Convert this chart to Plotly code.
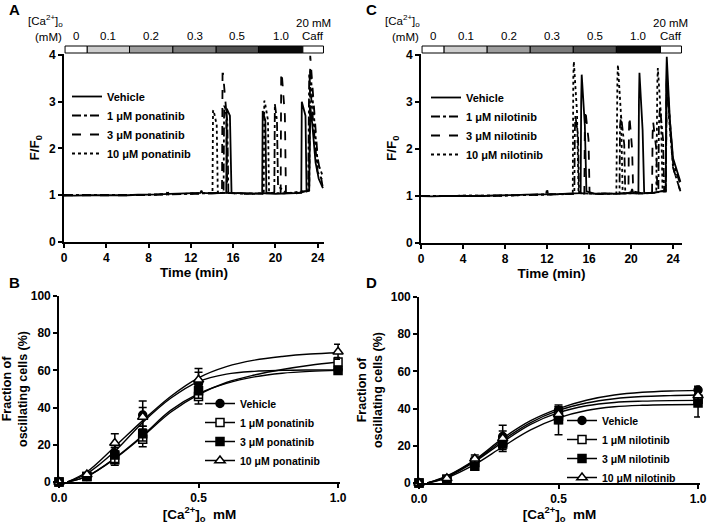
import plotly.graph_objects as go

W, H = 709, 524
FONT = "Liberation Sans, Arial, sans-serif"

def px(x):
    return x / W

def py(y):
    return 1 - y / H

# ---------------- Panel A / C protocol bar ----------------
bar_labels = ["0", "0.1", "0.2", "0.3", "0.5", "1.0", "Caff"]
bar_colors = ["#ffffff", "#cdcdcd", "#9d9d9d", "#7b7b7b", "#505050", "#0a0a0a", "#ffffff"]
bar_edges_A = [0.1, 2.2, 6.2, 10.3, 14.4, 18.4, 22.6, 24.55]
bar_edges_C = [0.1, 2.2, 6.3, 10.4, 14.5, 18.6, 22.8, 24.8]

# ---------------- Panel A traces (ponatinib) ----------------
A_veh_t = [0, 1, 2, 3, 4, 5, 6, 7, 8, 9, 10, 11, 12, 12.9, 13.0, 13.1, 14, 15.0, 15.35, 15.4, 15.7, 15.85,
           16.5, 17.5, 18.75, 18.8, 19.05, 19.15, 20, 21, 22, 22.45, 22.5, 22.85, 22.95, 23.2, 23.3, 23.5,
           23.8, 24.1, 24.5]
A_veh_v = [1.0, 0.99, 1.0, 1.0, 0.99, 1.0, 1.0, 1.01, 1.01, 1.02, 1.03, 1.04, 1.04, 1.05, 1.1, 1.05, 1.04,
           1.05, 1.05, 2.85, 2.7, 1.05, 1.04, 1.04, 1.03, 2.8, 2.6, 1.04, 1.03, 1.04, 1.04, 1.05, 3.0, 2.7,
           1.08, 1.1, 2.9, 2.5, 1.7, 1.35, 1.15]
A_1_t = [0, 2, 4, 6, 8, 10, 12, 14, 15.1, 15.15, 15.2, 15.45, 15.55, 17, 19, 19.9, 19.95, 20.15, 20.25, 21,
         22, 23.1, 23.2, 23.6, 24.0, 24.5]
A_1_v = [1.0, 1.0, 1.0, 1.01, 1.01, 1.02, 1.03, 1.04, 1.05, 2.9, 2.9, 2.6, 1.05, 1.04, 1.04, 1.06, 2.95, 2.6,
         1.2, 1.05, 1.05, 1.1, 3.6, 2.5, 1.5, 1.3]
A_3_t = [0, 2, 4, 6, 8, 10, 12, 14, 14.95, 15.0, 15.05, 15.35, 15.45, 17, 19, 20.5, 20.55, 20.6, 20.9, 21.0,
         22, 23.2, 23.3, 23.6, 24.0, 24.5]
A_3_v = [1.0, 1.0, 0.99, 1.0, 1.01, 1.02, 1.03, 1.04, 1.05, 3.6, 3.6, 2.8, 1.05, 1.03, 1.04, 1.05, 3.62, 3.62,
         2.7, 1.05, 1.04, 1.1, 3.98, 3.0, 1.8, 1.15]
A_10_t = [0, 2, 4, 6, 8, 9.7, 9.8, 9.9, 12, 14.05, 14.1, 14.15, 14.45, 14.55, 16, 18, 18.9, 18.95, 19.0, 19.3,
          19.4, 21, 23.2, 23.3, 23.6, 24.0, 24.5]
A_10_v = [1.0, 1.0, 1.0, 1.0, 1.01, 1.02, 1.1, 1.02, 1.03, 1.05, 2.8, 2.82, 2.5, 1.06, 1.04, 1.03, 1.05, 3.02,
          3.0, 2.6, 1.05, 1.04, 1.1, 3.7, 2.8, 1.7, 1.4]

# ---------------- Panel C traces (nilotinib) ----------------
C_veh_t = [0, 1, 2, 3, 4, 5, 6, 7, 8, 9, 10, 11, 12, 13, 14, 15.2, 15.25, 15.3, 15.6, 15.75, 16.5, 18, 19.5,
           20.0, 20.1, 20.2, 20.7, 20.75, 20.8, 21.1, 21.25, 22, 23.3, 23.35, 23.4, 23.7, 24.0, 24.7]
C_veh_v = [1.0, 0.99, 1.0, 1.0, 0.99, 1.0, 1.0, 1.01, 1.01, 1.02, 1.03, 1.03, 1.04, 1.04, 1.05, 1.06, 3.0,
           3.58, 2.5, 1.1, 1.05, 1.05, 1.05, 1.08, 1.15, 1.07, 1.06, 3.0, 3.62, 2.4, 1.06, 1.06, 1.12, 3.5,
           3.96, 2.6, 1.8, 1.3]
C_1_t = [0, 2, 4, 6, 8, 10, 12, 14, 14.6, 14.65, 14.7, 14.95, 15.05, 17, 18.9, 18.95, 19.05, 19.35, 19.45, 21,
         22.6, 22.65, 22.75, 23.05, 23.15, 23.3, 23.4, 23.7, 24.0, 24.7]
C_1_v = [1.0, 1.0, 1.0, 1.01, 1.01, 1.02, 1.03, 1.04, 1.05, 2.4, 2.7, 2.3, 1.06, 1.04, 1.05, 2.5, 2.7, 2.1,
         1.06, 1.05, 1.08, 2.5, 2.9, 2.2, 1.1, 1.1, 3.5, 2.6, 1.7, 1.25]
C_3_t = [0, 2, 4, 6, 8, 10, 12, 14, 15.55, 15.6, 15.65, 15.95, 16.05, 18, 19.75, 19.8, 19.85, 20.1, 20.2, 21,
         22.0, 22.05, 22.1, 22.4, 22.5, 23.3, 23.4, 23.7, 24.0, 24.7]
C_3_v = [1.0, 1.0, 0.99, 1.0, 1.01, 1.02, 1.03, 1.04, 1.05, 2.5, 2.83, 2.2, 1.06, 1.05, 1.06, 2.4, 2.69, 2.0,
         1.1, 1.06, 1.07, 2.3, 2.58, 2.0, 1.1, 1.1, 3.6, 2.5, 1.6, 1.1]
C_10_t = [0, 2, 4, 6, 8, 10, 11.9, 12.0, 12.1, 14, 14.45, 14.5, 14.55, 14.85, 15.0, 16, 18.6, 18.7, 18.75,
          19.05, 19.2, 21, 22.4, 22.5, 22.55, 22.85, 23.0, 23.3, 23.4, 23.7, 24.0, 24.7]
C_10_v = [1.0, 1.0, 1.0, 1.0, 1.01, 1.02, 1.03, 1.15, 1.03, 1.04, 1.05, 3.5, 3.86, 2.8, 1.06, 1.05, 1.05, 3.5,
          3.79, 2.7, 1.06, 1.05, 1.07, 3.4, 3.72, 2.7, 1.1, 1.1, 3.4, 2.4, 1.6, 1.1]

# ---------------- Panel B / D concentration-response ----------------
conc = [0.0, 0.1, 0.2, 0.3, 0.5, 1.0]
fit_x = [0.03, 0.1, 0.2, 0.3, 0.4, 0.5, 0.6, 0.7, 0.8, 0.9, 1.0]

B_veh = [0, 3, 15.5, 36, 53, 60.5]
B_veh_err = [0, 1, 3, 7.5, 8, 2]
B_1 = [0, 3, 12, 23, 46, 64.5]
B_1_err = [0, 1, 3, 4, 4, 2.5]
B_3 = [0, 3, 14.5, 26, 49, 60]
B_3_err = [0, 1, 4, 4, 4, 2]
B_10 = [0, 4, 21, 35, 55, 70]
B_10_err = [0, 1, 5, 5, 4, 4]
B_veh_fit = [0, 4.5, 16.5, 32, 45, 54, 58, 59.5, 60, 60.2, 60.3]
B_1_fit = [0, 3, 12.5, 24.5, 37.5, 47, 53.5, 57.5, 60.5, 62.8, 64.5]
B_3_fit = [0, 3, 12.8, 25, 38.5, 47.5, 53, 56.5, 58.5, 59.5, 60]
B_10_fit = [0, 5.5, 19, 33, 46, 56, 62, 65.5, 67.5, 68.8, 69.5]

D_veh = [0, 2, 12, 25, 39, 50]
D_veh_err = [0, 1, 2, 3, 2, 2]
D_1 = [0, 2, 11, 22, 36, 45]
D_1_err = [0, 1, 2, 3, 4, 3]
D_3 = [0, 2, 9, 21, 34, 43]
D_3_err = [0, 1, 2, 3, 8, 7.5]
D_10 = [0, 2.5, 13, 24, 37, 47]
D_10_err = [0, 1, 2, 7, 4, 4]
D_veh_fit = [0, 3.8, 12.5, 24, 33.5, 40, 44.5, 47.3, 48.8, 49.5, 49.8]
D_1_fit = [0, 3.5, 12, 23, 32.5, 39, 43, 45.3, 46.5, 47, 47.3]
D_3_fit = [0, 3.2, 11.5, 22, 31.5, 37.8, 41.5, 43.3, 44, 44.3, 44.4]
D_10_fit = [0, 2.8, 10, 19.5, 28.5, 35, 39, 41, 41.8, 42.1, 42.2]

names_pon = ["Vehicle", "1 \u03bcM ponatinib", "3 \u03bcM ponatinib", "10 \u03bcM ponatinib"]
names_nil = ["Vehicle", "1 \u03bcM nilotinib", "3 \u03bcM nilotinib", "10 \u03bcM nilotinib"]
dashes = ["solid", "dashdot", "dash", "dot"]
symbols = ["circle", "square", "square", "triangle-up"]
fills = ["black", "white", "black", "white"]

fig = go.Figure()

# Time traces
for (ax, leg, series, names) in [
    ("", "legend", [(A_veh_t, A_veh_v), (A_1_t, A_1_v), (A_3_t, A_3_v), (A_10_t, A_10_v)], names_pon),
    ("3", "legend3", [(C_veh_t, C_veh_v), (C_1_t, C_1_v), (C_3_t, C_3_v), (C_10_t, C_10_v)], names_nil),
]:
    for i in [3, 2, 1, 0]:
        t, v = series[i]
        fig.add_trace(go.Scatter(
            x=t, y=v, mode="lines", name=names[i],
            line=dict(color="black", width=1.8, dash=dashes[i]),
            xaxis="x" + ax, yaxis="y" + ax, legend=leg, legendrank=i + 1,
            cliponaxis=False,
        ))

# Concentration-response
for (ax, leg, pts, errs, fits, names) in [
    ("2", "legend2", [B_veh, B_1, B_3, B_10], [B_veh_err, B_1_err, B_3_err, B_10_err],
     [B_veh_fit, B_1_fit, B_3_fit, B_10_fit], names_pon),
    ("4", "legend4", [D_veh, D_1, D_3, D_10], [D_veh_err, D_1_err, D_3_err, D_10_err],
     [D_veh_fit, D_1_fit, D_3_fit, D_10_fit], names_nil),
]:
    for i in range(4):
        fig.add_trace(go.Scatter(
            x=fit_x, y=fits[i], mode="lines", line=dict(color="black", width=1.4, shape="spline"),
            xaxis="x" + ax, yaxis="y" + ax, showlegend=False, hoverinfo="skip",
        ))
    for i in range(4):
        fig.add_trace(go.Scatter(
            x=conc, y=pts[i], mode="markers",
            marker=dict(symbol=symbols[i], size=8 if i != 3 else 9, color=fills[i],
                        line=dict(color="black", width=1.5)),
            error_y=dict(type="data", array=errs[i], color="black", thickness=1.5, width=4),
            xaxis="x" + ax, yaxis="y" + ax, showlegend=False, cliponaxis=False,
        ))
    for i in range(4):
        fig.add_trace(go.Scatter(
            x=[None], y=[None], mode="lines+markers", name=names[i],
            line=dict(color="black", width=1.5),
            marker=dict(symbol=symbols[i], size=8 if i != 3 else 9, color=fills[i],
                        line=dict(color="black", width=1.5)),
            xaxis="x" + ax, yaxis="y" + ax, legend=leg, legendrank=i + 1,
        ))

tickfont = dict(family=FONT, size=12, color="black", weight="bold")

def axis(domain, rng, dtick, title=None, anchor=None, tickformat=None, standoff=None, tsize=13.5):
    d = dict(domain=domain, range=rng, dtick=dtick, tick0=0, showline=True, linecolor="black",
             linewidth=1.6, ticks="outside", ticklen=4, tickwidth=1.5, tickcolor="black",
             showgrid=False, zeroline=False, tickfont=tickfont, anchor=anchor, fixedrange=True,
             automargin=False)
    if tickformat:
        d["tickformat"] = tickformat
    if title:
        d["title"] = dict(text=title, font=dict(family=FONT, size=tsize, color="black", weight="bold"))
        if standoff is not None:
            d["title"]["standoff"] = standoff
    return d

ca_title = "[Ca<sup>2+</sup>]<sub>o</sub>  mM"
frac_title = "Fraction of<br>oscillating cells (%)"

fig.update_layout(
    width=W, height=H, margin=dict(l=0, r=0, t=0, b=0, autoexpand=False),
    paper_bgcolor="white", plot_bgcolor="white",
    font=dict(family=FONT, color="black"),
    xaxis=axis([px(64), px(324)], [0, 24.6], 4, "Time (min)", "y", standoff=3),
    yaxis=axis([py(242), py(53.5)], [0, 4.03], 1, "F/F<sub>0</sub>", "x", standoff=6),
    xaxis2=axis([px(59), px(340)], [0, 1.007], 0.5, ca_title, "y2", ".1f", standoff=5),
    yaxis2=axis([py(482), py(296)], [0, 100], 20, frac_title, "x2", standoff=5, tsize=12.5),
    xaxis3=axis([px(421), px(682)], [0, 24.85], 4, "Time (min)", "y3", standoff=3),
    yaxis3=axis([py(243), py(53.5)], [0, 4.03], 1, "F/F<sub>0</sub>", "x3", standoff=6),
    xaxis4=axis([px(419), px(700)], [0, 1.007], 0.5, ca_title, "y4", ".1f", standoff=5),
    yaxis4=axis([py(483), py(297)], [0, 100], 20, frac_title, "x4", standoff=5, tsize=12.5),
)

def leg(x, y, size):
    return dict(x=px(x), y=py(y), xanchor="left", yanchor="top", bgcolor="rgba(0,0,0,0)",
                font=dict(family=FONT, size=size, color="black", weight="bold"),
                tracegroupgap=0, itemwidth=30, borderwidth=0, traceorder="normal")

fig.update_layout(legend=leg(67, 82, 11), legend2=leg(200, 389, 10.5),
                  legend3=leg(426, 83, 11), legend4=leg(562, 406, 10.5))

# Protocol bars
shapes = []
annotations = []
small = dict(family=FONT, size=11.5, color="black")
for xref, edges in [("x", bar_edges_A), ("x3", bar_edges_C)]:
    for k in range(len(bar_labels)):
        shapes.append(dict(type="rect", xref=xref, yref="paper", x0=edges[k], x1=edges[k + 1],
                           y0=py(53), y1=py(46), fillcolor=bar_colors[k],
                           line=dict(color="black", width=1)))
        cx = (edges[k] + edges[k + 1]) / 2
        annotations.append(dict(xref=xref, yref="paper", x=cx, y=py(36), text=bar_labels[k],
                                showarrow=False, font=small, xanchor="center", yanchor="middle"))
    annotations.append(dict(xref=xref, yref="paper", x=(edges[-2] + edges[-1]) / 2, y=py(23),
                            text="20 mM", showarrow=False, font=small,
                            xanchor="center", yanchor="middle"))

for x0 in (45, 402):
    annotations.append(dict(xref="paper", yref="paper", x=px(x0), y=py(21),
                            text="[Ca<sup>2+</sup>]<sub>o</sub>", showarrow=False, font=small,
                            xanchor="center", yanchor="middle"))
    annotations.append(dict(xref="paper", yref="paper", x=px(x0 + 3), y=py(37),
                            text="(mM)", showarrow=False, font=small,
                            xanchor="center", yanchor="middle"))

for letter, x0, y0 in [("A", 14, 9), ("B", 14, 282), ("C", 371, 9), ("D", 371, 282)]:
    annotations.append(dict(xref="paper", yref="paper", x=px(x0), y=py(y0), text=letter,
                            showarrow=False,
                            font=dict(family=FONT, size=15, color="black", weight="bold"),
                            xanchor="center", yanchor="middle"))

fig.update_layout(shapes=shapes, annotations=annotations)

fig.write_html("out.html", config={"displayModeBar": False},
               post_script="document.body.style.margin='0';document.body.style.padding='0';")
